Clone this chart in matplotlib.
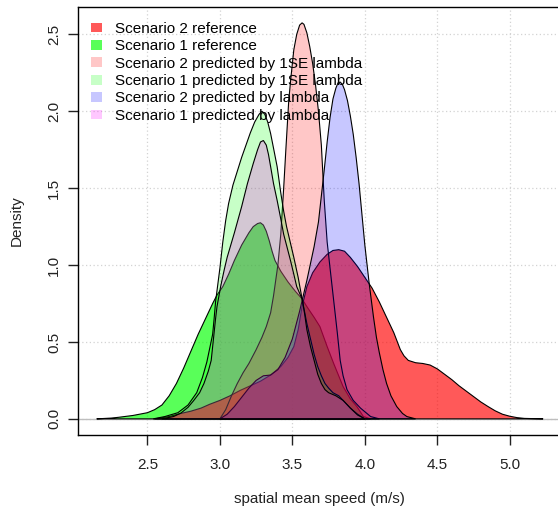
import matplotlib
matplotlib.use("Agg")
import matplotlib.pyplot as plt
from matplotlib.patches import Patch

plt.rcParams['font.family'] = ['Liberation Sans', 'DejaVu Sans']

# density curves (x in m/s, y = density)
s2_ref_x = [2.55, 2.65, 2.73, 2.80, 2.87, 2.93, 3.00, 3.07, 3.14, 3.21, 3.28, 3.35, 3.42,
            3.47, 3.51, 3.54, 3.567, 3.60, 3.64, 3.69, 3.74, 3.78, 3.82, 3.86, 3.90, 3.95,
            4.00, 4.05, 4.10, 4.15, 4.20, 4.245, 4.27, 4.30, 4.35, 4.40, 4.45, 4.50, 4.55,
            4.60, 4.65, 4.70, 4.75, 4.80, 4.85, 4.90, 4.95, 5.00, 5.05, 5.10, 5.23]
s2_ref_y = [0.0, 0.015, 0.035, 0.05, 0.07, 0.095, 0.12, 0.15, 0.185, 0.215, 0.245, 0.285, 0.34,
            0.40, 0.47, 0.58, 0.73, 0.86, 0.95, 1.02, 1.07, 1.095, 1.10, 1.09, 1.05, 0.99,
            0.92, 0.85, 0.76, 0.66, 0.56, 0.45, 0.41, 0.38, 0.365, 0.36, 0.35, 0.325, 0.29,
            0.255, 0.215, 0.18, 0.145, 0.11, 0.08, 0.052, 0.03, 0.017, 0.008, 0.003, 0.0]

s1_ref_x = [2.15, 2.25, 2.30, 2.40, 2.50, 2.55, 2.60, 2.65, 2.70, 2.75, 2.80, 2.85, 2.90,
            2.95, 2.98, 3.02, 3.06, 3.10, 3.15, 3.20, 3.23, 3.26, 3.28, 3.30, 3.32, 3.34,
            3.36, 3.38, 3.42, 3.47, 3.52, 3.567, 3.60, 3.65, 3.69, 3.74, 3.785, 3.85, 3.90,
            3.945, 3.99, 4.04]
s1_ref_y = [0.0, 0.005, 0.01, 0.022, 0.04, 0.06, 0.09, 0.15, 0.23, 0.33, 0.44, 0.55, 0.65,
            0.75, 0.805, 0.86, 0.94, 1.03, 1.13, 1.21, 1.25, 1.27, 1.275, 1.26, 1.22, 1.16,
            1.09, 1.03, 0.96, 0.89, 0.83, 0.78, 0.73, 0.66, 0.60, 0.47, 0.36, 0.21, 0.13,
            0.08, 0.015, 0.0]

s2_1se_x = [3.00, 3.04, 3.08, 3.12, 3.16, 3.20, 3.25, 3.29, 3.32, 3.35, 3.37, 3.40, 3.42,
            3.44, 3.455, 3.475, 3.49, 3.51, 3.53, 3.55, 3.567, 3.58, 3.60, 3.62, 3.64, 3.66,
            3.68, 3.70, 3.72, 3.74, 3.76, 3.785, 3.81, 3.83, 3.85, 3.877, 3.92, 3.97, 4.04,
            4.10]
s2_1se_y = [0.0, 0.06, 0.15, 0.23, 0.30, 0.36, 0.45, 0.53, 0.60, 0.69, 0.80, 1.00, 1.20,
            1.50, 1.75, 2.07, 2.22, 2.40, 2.50, 2.56, 2.575, 2.565, 2.51, 2.42, 2.31, 2.17,
            2.00, 1.78, 1.42, 1.15, 0.98, 0.77, 0.56, 0.38, 0.28, 0.19, 0.12, 0.07, 0.015,
            0.0]

s1_1se_x = [2.54, 2.62, 2.71, 2.78, 2.84, 2.88, 2.91, 2.93, 2.95, 2.96, 2.97, 2.985, 3.00,
            3.02, 3.04, 3.06, 3.09, 3.12, 3.15, 3.18, 3.21, 3.24, 3.27, 3.29, 3.31, 3.33,
            3.35, 3.37, 3.395, 3.42, 3.44, 3.46, 3.485, 3.51, 3.54, 3.567, 3.60, 3.625,
            3.65, 3.675, 3.70, 3.725, 3.75, 3.78, 3.82, 3.86, 3.90, 3.95, 4.00]
s1_1se_y = [0.0, 0.015, 0.04, 0.09, 0.17, 0.27, 0.37, 0.46, 0.55, 0.65, 0.76, 0.87, 0.98,
            1.15, 1.29, 1.40, 1.52, 1.61, 1.70, 1.78, 1.86, 1.93, 1.98, 2.0, 1.98, 1.93,
            1.855, 1.76, 1.64, 1.47, 1.35, 1.25, 1.15, 1.05, 0.92, 0.78, 0.62, 0.52,
            0.42, 0.34, 0.28, 0.23, 0.20, 0.17, 0.15, 0.11, 0.07, 0.03, 0.0]

s2_lam_x = [3.00, 3.05, 3.10, 3.15, 3.20, 3.25, 3.30, 3.35, 3.40, 3.45, 3.50, 3.55, 3.60,
            3.65, 3.68, 3.70, 3.72, 3.74, 3.76, 3.78, 3.80, 3.815, 3.83, 3.845, 3.86, 3.88,
            3.90, 3.92, 3.94, 3.96, 3.98, 4.00, 4.03, 4.06, 4.08, 4.10, 4.125, 4.15, 4.18,
            4.22, 4.26, 4.29, 4.35]
s2_lam_y = [0.0, 0.03, 0.08, 0.14, 0.20, 0.25, 0.28, 0.285, 0.32, 0.40, 0.52, 0.70, 0.90,
            1.12, 1.28, 1.45, 1.62, 1.80, 1.96, 2.08, 2.15, 2.185, 2.19, 2.175, 2.14, 2.07,
            1.97, 1.85, 1.70, 1.53, 1.33, 1.13, 0.88, 0.66, 0.53, 0.43, 0.32, 0.23, 0.15,
            0.08, 0.035, 0.015, 0.0]

s1_lam_x = [2.60, 2.68, 2.73, 2.78, 2.82, 2.86, 2.89, 2.92, 2.94, 2.95, 2.96, 2.97, 2.98,
            3.005, 3.03, 3.05, 3.075, 3.10, 3.15, 3.19, 3.23, 3.26, 3.28, 3.30, 3.32, 3.335,
            3.35, 3.37, 3.395, 3.42, 3.44, 3.465, 3.487, 3.51, 3.53, 3.567, 3.585, 3.60,
            3.625, 3.65, 3.675, 3.70, 3.725, 3.75, 3.80, 3.85, 3.90, 3.95, 4.00]
s1_lam_y = [0.0, 0.015, 0.037, 0.075, 0.12, 0.17, 0.23, 0.31, 0.38, 0.47, 0.56, 0.65, 0.73,
            0.86, 0.97, 1.05, 1.13, 1.21, 1.38, 1.53, 1.66, 1.75, 1.80, 1.81, 1.78, 1.72,
            1.64, 1.53, 1.42, 1.30, 1.20, 1.11, 1.03, 0.94, 0.86, 0.78, 0.68, 0.58,
            0.47, 0.38, 0.29, 0.23, 0.19, 0.17, 0.15, 0.12, 0.07, 0.025, 0.0]

labels = ["Scenario 2 reference", "Scenario 1 reference",
          "Scenario 2 predicted by 1SE lambda", "Scenario 1 predicted by 1SE lambda",
          "Scenario 2 predicted by lambda", "Scenario 1 predicted by lambda"]
colors = [(1, 0, 0, 0.65), (0, 1, 0, 0.65), (1, 0, 0, 0.22), (0, 1, 0, 0.22),
          (0, 0, 1, 0.22), (1, 0, 1, 0.22)]
curves = [(s2_ref_x, s2_ref_y), (s1_ref_x, s1_ref_y), (s2_1se_x, s2_1se_y),
          (s1_1se_x, s1_1se_y), (s2_lam_x, s2_lam_y), (s1_lam_x, s1_lam_y)]
# scenario 1 reference was filled first, scenario 2 reference over it
draw_order = [1, 0, 2, 3, 4, 5]

fig = plt.figure(figsize=(5.58, 5.11), dpi=100)
ax = fig.add_axes([78 / 558, 1 - 434.7 / 511, 482.8 / 558, 427.7 / 511])

ax.axhline(0, color='#bebebe', lw=1, zorder=1)
for i in draw_order:
    x, y = curves[i]
    ax.fill(x, y, facecolor=colors[i], edgecolor='black', lw=0.8, zorder=2)

ax.set_xlim(2.021, 5.352)
ax.set_ylim(-0.103, 2.678)
ax.set_xticks([2.5, 3.0, 3.5, 4.0, 4.5, 5.0])
ax.set_yticks([0.0, 0.5, 1.0, 1.5, 2.0, 2.5])
ax.set_yticklabels(['0.0', '0.5', '1.0', '1.5', '2.0', '2.5'], rotation=90, va='center')
ax.grid(True, color='#d3d3d3', linestyle=(0, (1, 2)), lw=0.9, zorder=0)
ax.set_axisbelow(True)
ax.tick_params(labelsize=11, length=7, width=1, colors='#222222')
ax.tick_params(axis='x', pad=10)
ax.tick_params(axis='y', pad=5)
for s in ax.spines.values():
    s.set_linewidth(1)
ax.set_xlabel("spatial mean speed (m/s)", fontsize=11, labelpad=14, color='#222222')
ax.set_ylabel("Density", fontsize=11, labelpad=17, color='#222222')

handles = [Patch(facecolor=c, edgecolor='none') for c in colors]
fig.legend(handles, labels, loc='upper left', bbox_to_anchor=(90.7 / 558, 1 - 22 / 511),
           frameon=False, fontsize=11, handlelength=0.72, handleheight=0.6,
           handletextpad=0.87, labelspacing=0.22, borderpad=0, borderaxespad=0)

fig.savefig("out.png", dpi=100)
